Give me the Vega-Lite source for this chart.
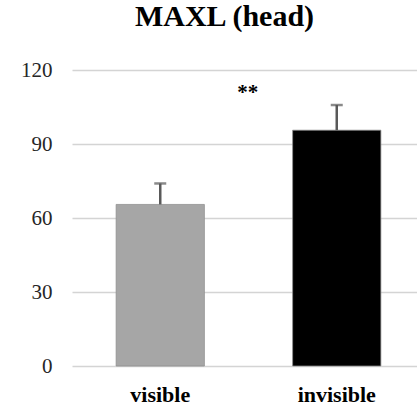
{
  "$schema": "https://vega.github.io/schema/vega-lite/v6.json",
  "width": 353,
  "height": 296,
  "autosize": {"type": "none"},
  "padding": {"left": 72, "top": 70, "right": 0, "bottom": 42},
  "background": "white",
  "config": {"view": {"stroke": null}},
  "title": {
    "text": "MAXL (head)",
    "font": "Liberation Serif",
    "fontSize": 30,
    "fontWeight": "bold",
    "color": "#000000",
    "anchor": "middle",
    "dx": -24,
    "offset": 27
  },
  "datasets": {
    "bars": [
      {"group": "visible", "mean": 65.5, "upper": 74.0},
      {"group": "invisible", "mean": 95.6, "upper": 105.8}
    ],
    "notes": [
      {"group": "invisible", "label": "**", "y": 108.2}
    ]
  },
  "layer": [
    {
      "data": {"name": "bars"},
      "mark": {"type": "bar", "stroke": "#8c8c8c", "strokeWidth": 0.75},
      "encoding": {
        "x": {
          "field": "group",
          "type": "nominal",
          "sort": ["visible", "invisible"],
          "scale": {"paddingInner": 0.5, "paddingOuter": 0.25},
          "axis": {
            "title": null,
            "domain": false,
            "ticks": false,
            "labelAngle": 0,
            "labelFont": "Liberation Serif",
            "labelFontSize": 22,
            "labelFontWeight": "bold",
            "labelColor": "#000000",
            "labelPadding": 18
          }
        },
        "y": {
          "field": "mean",
          "type": "quantitative",
          "scale": {"domain": [0, 120], "nice": false},
          "axis": {
            "title": null,
            "values": [0, 30, 60, 90, 120],
            "domain": false,
            "ticks": false,
            "grid": true,
            "gridColor": "#d4d4d4",
            "gridWidth": 1.5,
            "labelFont": "Liberation Serif",
            "labelFontSize": 21,
            "labelColor": "#262626",
            "labelPadding": 20
          }
        },
        "color": {
          "field": "group",
          "type": "nominal",
          "scale": {"domain": ["visible", "invisible"], "range": ["#a6a6a6", "#000000"]},
          "legend": null
        }
      }
    },
    {
      "data": {"name": "bars"},
      "mark": {"type": "rule", "color": "#595959", "strokeWidth": 2.5},
      "encoding": {
        "x": {"field": "group", "type": "nominal", "sort": ["visible", "invisible"]},
        "y": {"field": "mean", "type": "quantitative"},
        "y2": {"field": "upper"}
      }
    },
    {
      "data": {"name": "bars"},
      "mark": {"type": "tick", "color": "#595959", "thickness": 2.5, "size": 12, "orient": "horizontal"},
      "encoding": {
        "x": {"field": "group", "type": "nominal", "sort": ["visible", "invisible"]},
        "y": {"field": "upper", "type": "quantitative"}
      }
    },
    {
      "data": {"name": "notes"},
      "mark": {"type": "text", "font": "Liberation Serif", "fontSize": 21, "fontWeight": "bold", "color": "#000000", "dx": -89, "baseline": "alphabetic", "align": "center"},
      "encoding": {
        "x": {"field": "group", "type": "nominal", "sort": ["visible", "invisible"]},
        "y": {"field": "y", "type": "quantitative"},
        "text": {"field": "label"}
      }
    }
  ]
}
